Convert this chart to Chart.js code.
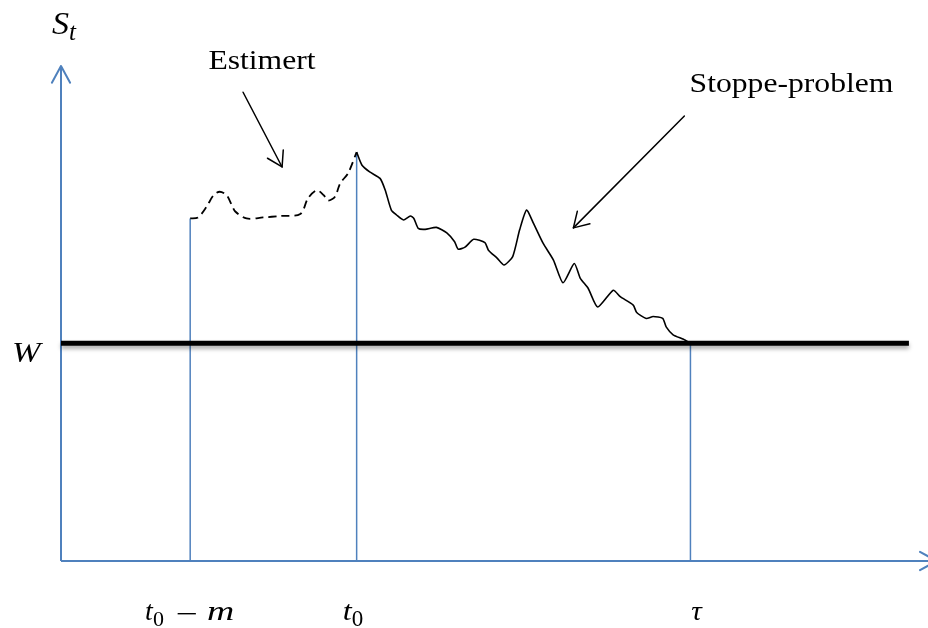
<!DOCTYPE html>
<html>
<head>
<meta charset="utf-8">
<script src="https://cdn.jsdelivr.net/npm/chart.js@4/dist/chart.umd.min.js"></script>
<style>
  html, body { margin: 0; padding: 0; background: #fff; }
  #wrap { width: 928px; height: 628px; }
</style>
</head>
<body>
<div id="wrap"><canvas id="chart" width="928" height="628"></canvas></div>
<script>
// Diagram units: time runs 0..100 along the x axis, value 0..100 up the y axis
const X_AXIS_END = 101;
const Y_AXIS_END = 100;

// Barrier level W and how far the thick line runs
const W_LEVEL = 44.0;
const W_END = 97.8;

// Marked times: t0 - m, t0, tau, and where each blue guide stops
const markTimes = [14.9, 34.1, 72.6];
const markTops = [69.2, 82.6, 44.0];

// Estimated (dashed) path between t0 - m and t0
const estTime = [14.9, 15.8, 16.8, 17.6, 18.3, 19.1, 19.7, 20.1, 21.4, 23.3,
  25.3, 27.6, 28.5, 29.5, 30.3, 30.8, 31.6, 32.2, 33.1, 34.1];
const estValue = [69.2, 69.4, 71.6, 73.9, 74.6, 73.9, 71.9, 70.6, 69.2, 69.4,
  69.7, 70.1, 73.3, 74.9, 73.9, 72.8, 73.6, 76.3, 78.3, 82.6];

// Stopping-problem (solid) path from t0 down to W at tau
const stopTime = [34.1, 34.7, 35.6, 36.8, 37.4, 38.1, 38.7, 39.5, 40.3, 40.7,
  41.2, 42.0, 43.3, 44.5, 45.4, 45.8, 46.6, 47.6, 48.9, 49.3,
  50.3, 51.1, 52.1, 52.9, 53.7, 54.5, 55.6, 56.8, 57.9, 59.2,
  59.9, 60.8, 61.9, 63.7, 64.5, 66.0, 66.4, 67.5, 68.3, 69.4,
  69.8, 70.6, 71.8, 72.6];
const stopValue = [82.6, 80.0, 78.6, 77.3, 74.9, 70.9, 69.9, 68.9, 69.7, 69.2,
  67.2, 67.0, 67.4, 66.3, 64.5, 63.0, 63.4, 65.0, 64.3, 62.8,
  61.2, 59.8, 61.5, 66.9, 70.9, 68.2, 64.2, 60.8, 56.2, 60.1,
  57.1, 55.1, 51.3, 54.7, 53.4, 51.7, 50.2, 49.0, 49.4, 49.0,
  47.3, 45.7, 44.8, 44.0];

// Callout arrows [fromX, fromY, toX, toY]
const estArrow = [21.0, 94.7, 25.5, 79.6];
const stopArrow = [71.9, 89.9, 59.1, 67.3];

const BLUE = '#4F81BD';

const pts = (xs, ys) => xs.map((x, i) => ({ x, y: ys[i] }));

const datasets = [];

// Axes
datasets.push({ data: [{ x: 0, y: 0 }, { x: 0, y: Y_AXIS_END }], borderColor: BLUE, borderWidth: 2, order: 5 });
datasets.push({ data: [{ x: 0, y: 0 }, { x: X_AXIS_END, y: 0 }], borderColor: BLUE, borderWidth: 2, order: 5 });

// Blue guides at the marked times
markTimes.forEach((t, i) => {
  datasets.push({ data: [{ x: t, y: 0 }, { x: t, y: markTops[i] }], borderColor: BLUE, borderWidth: 1.5, order: 4 });
});

// Barrier W
datasets.push({ id: 'barrier', data: [{ x: 0, y: W_LEVEL }, { x: W_END, y: W_LEVEL }], borderColor: '#000', borderWidth: 5, order: 3 });

// Paths
datasets.push({ data: pts(estTime, estValue), borderColor: '#000', borderWidth: 1.8, borderDash: [8, 5], tension: 0.3, order: 1 });
datasets.push({ data: pts(stopTime, stopValue), borderColor: '#000', borderWidth: 1.6, tension: 0.2, order: 1 });

datasets.forEach(d => { d.clip = false; d.pointRadius = 0; d.fill = false; });

function drawHead(ctx, x1, y1, x2, y2, len, ang) {
  const a = Math.atan2(y2 - y1, x2 - x1);
  ctx.beginPath();
  ctx.moveTo(x2 - len * Math.cos(a - ang), y2 - len * Math.sin(a - ang));
  ctx.lineTo(x2, y2);
  ctx.lineTo(x2 - len * Math.cos(a + ang), y2 - len * Math.sin(a + ang));
  ctx.stroke();
}

// Math-style text made of runs, each with its own size, slant, shift and stretch
function drawRuns(ctx, x, y, runs) {
  let cx = x;
  runs.forEach(r => {
    const size = r.s || 28, sx = r.sx || 1;
    cx += r.dx || 0;
    ctx.font = (r.i ? 'italic ' : '') + size + 'px "Liberation Serif"';
    ctx.save();
    ctx.translate(cx, y + (r.dy || 0));
    ctx.scale(sx, 1);
    ctx.fillText(r.t, 0, 0);
    ctx.restore();
    cx += ctx.measureText(r.t).width * sx;
  });
}

const mathLabels = [
  { x: 9.7, y: -11.9, runs: [{ t: 't', i: 1 }, { t: '0', s: 22, dy: 6 },
    { t: '\u2212', dx: 12, sx: 1.4, dy: 3 }, { t: 'm', i: 1, dx: 9, sx: 1.35 }] },
  { x: 32.5, y: -11.9, runs: [{ t: 't', i: 1, sx: 1.15 }, { t: '0', s: 23, dy: 6 }] },
  { x: 72.7, y: -11.9, runs: [{ t: '\u03C4', i: 1, sx: 1.05 }] },
  { x: -5.65, y: 40.2, runs: [{ t: 'W', i: 1, s: 29, sx: 1.18 }] },
  { x: -1.04, y: 106.5, runs: [{ t: 'S', i: 1, s: 31, sx: 1.1 }, { t: 't', i: 1, s: 25, dy: 6 }] }
];

const textLabels = [
  { x: 17.0, y: 99.4, text: 'Estimert' },
  { x: 72.5, y: 94.7, text: 'Stoppe-problem' }
];

const decorations = {
  id: 'decorations',
  beforeDatasetDraw(chart, args) {
    if (chart.data.datasets[args.index].id === 'barrier') {
      const ctx = chart.ctx;
      ctx.save();
      ctx.shadowColor = 'rgba(0,0,0,0.35)';
      ctx.shadowBlur = 4;
      ctx.shadowOffsetY = 3;
    }
  },
  afterDatasetDraw(chart, args) {
    if (chart.data.datasets[args.index].id === 'barrier') chart.ctx.restore();
  },
  afterDraw(chart) {
    const ctx = chart.ctx;
    const xs = chart.scales.x, ys = chart.scales.y;
    const px = v => xs.getPixelForValue(v);
    const py = v => ys.getPixelForValue(v);
    ctx.save();
    ctx.lineCap = 'round';
    ctx.lineJoin = 'round';

    // Axis arrowheads
    ctx.strokeStyle = BLUE;
    ctx.lineWidth = 2;
    drawHead(ctx, px(0), py(0), px(0), py(Y_AXIS_END), 19, 0.5);
    drawHead(ctx, px(0), py(0), px(X_AXIS_END), py(0), 19, 0.5);

    // Callout arrows
    ctx.strokeStyle = '#000';
    ctx.lineWidth = 1.5;
    [estArrow, stopArrow].forEach(([x1, y1, x2, y2]) => {
      ctx.beginPath();
      ctx.moveTo(px(x1), py(y1));
      ctx.lineTo(px(x2), py(y2));
      ctx.stroke();
      drawHead(ctx, px(x1), py(y1), px(x2), py(y2), 17, 0.55);
    });

    ctx.fillStyle = '#000';
    ctx.textBaseline = 'alphabetic';
    ctx.textAlign = 'left';
    textLabels.forEach(l => {
      ctx.save();
      ctx.translate(px(l.x), py(l.y));
      ctx.scale(1.13, 1);
      ctx.font = '28px "Liberation Serif"';
      ctx.fillText(l.text, 0, 0);
      ctx.restore();
    });
    mathLabels.forEach(l => drawRuns(ctx, px(l.x), py(l.y), l.runs));
    ctx.restore();
  }
};

new Chart(document.getElementById('chart').getContext('2d'), {
  type: 'line',
  data: { datasets },
  options: {
    responsive: false,
    animation: false,
    layout: { padding: { left: 61, right: 0, top: 66, bottom: 67 } },
    plugins: { legend: { display: false }, tooltip: { enabled: false }, title: { display: false } },
    scales: {
      x: { type: 'linear', min: 0, max: 100, display: false },
      y: { type: 'linear', min: 0, max: 100, display: false }
    }
  },
  plugins: [decorations]
});
</script>
</body>
</html>
